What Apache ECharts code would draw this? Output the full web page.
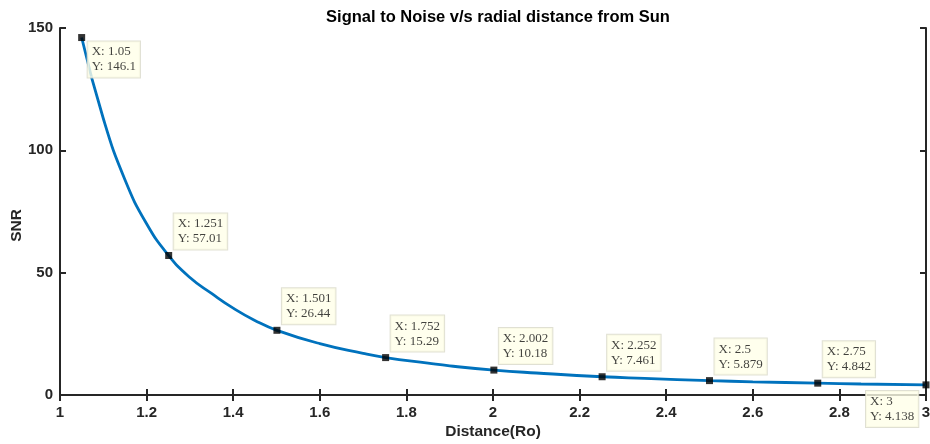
<!DOCTYPE html>
<html><head><meta charset="utf-8">
<script src="https://cdn.jsdelivr.net/npm/echarts@6/dist/echarts.min.js"></script>
<style>html,body{margin:0;padding:0;background:#fff}#c{width:930px;height:444px}</style>
</head><body><div id="c"></div>
<script>
// curve samples
const distance = [1.05, 1.1, 1.15, 1.2, 1.251, 1.3, 1.35, 1.4, 1.45, 1.501, 1.6, 1.7, 1.752, 1.85, 1.9, 2.002, 2.1, 2.252, 2.35, 2.5, 2.6, 2.75, 2.85, 3];
const snr      = [146.1, 113, 88, 70, 57.01, 48, 41.5, 35.5, 30.5, 26.44, 21, 17, 15.29, 13, 11.9, 10.18, 9.0, 7.461, 6.8, 5.879, 5.4, 4.842, 4.5, 4.138];
// data tips
const tipX = [1.05, 1.251, 1.501, 1.752, 2.002, 2.252, 2.5, 2.75, 3];
const tipY = [146.1, 57.01, 26.44, 15.29, 10.18, 7.461, 5.879, 4.842, 4.138];
const xTicks = [1, 1.2, 1.4, 1.6, 1.8, 2, 2.2, 2.4, 2.6, 2.8, 3];
const yTicks = [0, 50, 100, 150];

const chart = echarts.init(document.getElementById('c'), null, {renderer: 'canvas'});
const axisFont = {fontFamily: 'Liberation Sans, Arial', fontWeight: 'bold', fontSize: 15, color: '#262626'};
const lineStyle = {color: '#262626', width: 2};

const tipPos = function (i) {
  if (i === 0) return [9.5, 7.5];
  if (i === tipX.length - 1) return [-56.5, 9.5];
  return [8.5, -38.5];
};

chart.setOption({
  animation: false,
  title: {
    text: 'Signal to Noise v/s radial distance from Sun',
    left: 493, top: 4, textAlign: 'center',
    textStyle: {fontFamily: 'Liberation Sans, Arial', fontWeight: 'bold', fontSize: 16.5, color: '#000'}
  },
  grid: {left: 60, right: 4, top: 28, bottom: 49, containLabel: false, outerBoundsMode: 'none'},
  xAxis: [{
    type: 'value', min: 1, max: 3, interval: 0.2,
    name: 'Distance(Ro)', nameLocation: 'middle', nameGap: 29, nameMoveOverlap: false,
    nameTextStyle: {fontFamily: 'Liberation Sans, Arial', fontWeight: 'bold', fontSize: 15.5, color: '#262626'},
    axisLine: {show: true, lineStyle: lineStyle},
    axisTick: {show: true, inside: true, length: 6, lineStyle: lineStyle},
    axisLabel: Object.assign({margin: 10, formatter: v => String(+v.toFixed(1))}, axisFont),
    splitLine: {show: false}
  }, {
    type: 'value', min: 1, max: 3, interval: 0.2, position: 'top',
    axisLine: {show: true, lineStyle: lineStyle},
    axisTick: {show: true, inside: true, length: 6, lineStyle: lineStyle},
    axisLabel: {show: false}, splitLine: {show: false}
  }],
  yAxis: [{
    type: 'value', min: 0, max: 150, interval: 50,
    name: 'SNR', nameLocation: 'middle', nameGap: 35, nameRotate: 90, nameMoveOverlap: false,
    nameTextStyle: {fontFamily: 'Liberation Sans, Arial', fontWeight: 'bold', fontSize: 15.5, color: '#262626', padding: [0, 0, 0, -28]},
    axisLine: {show: true, lineStyle: lineStyle},
    axisTick: {show: true, inside: true, length: 6, lineStyle: lineStyle},
    axisLabel: Object.assign({margin: 7}, axisFont),
    splitLine: {show: false}
  }, {
    type: 'value', min: 0, max: 150, interval: 50, position: 'right',
    axisLine: {show: true, lineStyle: lineStyle},
    axisTick: {show: true, inside: true, length: 6, lineStyle: lineStyle},
    axisLabel: {show: false}, splitLine: {show: false}
  }],
  series: [{
    type: 'line', smooth: true, showSymbol: false,
    data: distance.map((x, i) => [x, snr[i]]),
    lineStyle: {color: '#0072BD', width: 2.8},
    z: 2
  }, {
    type: 'scatter', symbol: 'rect', symbolSize: 7,
    itemStyle: {color: '#000'},
    data: tipX.map((x, i) => ({
      value: [x, tipY[i]],
      label: {
        show: true,
        position: tipPos(i),
        formatter: 'X: ' + String(x) + '\nY: ' + String(tipY[i]),
        fontFamily: 'Liberation Serif, Times New Roman', fontSize: 13, lineHeight: 15,
        color: '#111', backgroundColor: '#ffffe8', borderColor: '#d8d8c8', borderWidth: 1,
        padding: [3, 4, 3, 4]
      }
    })),
    z: 5
  }]
});
</script></body></html>
